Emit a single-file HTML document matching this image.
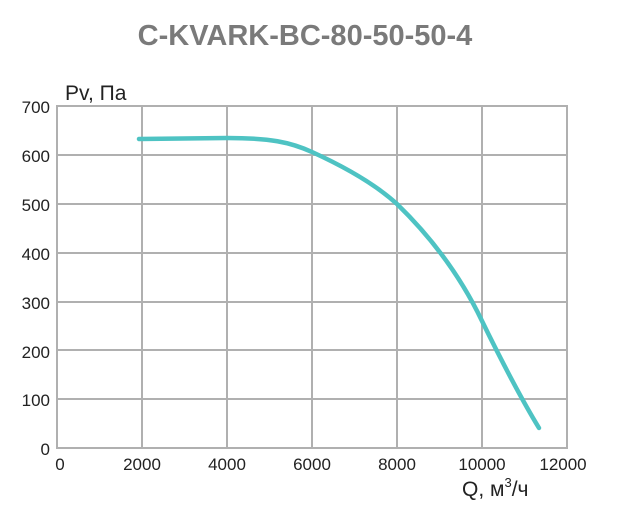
<!DOCTYPE html>
<html><head><meta charset="utf-8"><style>
body{margin:0;background:#fff;}
svg{display:block;font-family:"Liberation Sans",sans-serif;}
</style></head><body>
<svg width="618" height="529" viewBox="0 0 618 529">
<text x="305" y="45" text-anchor="middle" font-size="29" font-weight="bold" fill="#7a7a7a">C-KVARK-BC-80-50-50-4</text>
<g stroke="#b0b0b0" stroke-width="2" fill="none">
<rect x="57" y="106" width="510" height="342"/>
<line x1="142" y1="106" x2="142" y2="448"/>
<line x1="227" y1="106" x2="227" y2="448"/>
<line x1="312" y1="106" x2="312" y2="448"/>
<line x1="397" y1="106" x2="397" y2="448"/>
<line x1="482" y1="106" x2="482" y2="448"/>
<line x1="57" y1="155" x2="567" y2="155"/>
<line x1="57" y1="204" x2="567" y2="204"/>
<line x1="57" y1="253" x2="567" y2="253"/>
<line x1="57" y1="302" x2="567" y2="302"/>
<line x1="57" y1="350" x2="567" y2="350"/>
<line x1="57" y1="399" x2="567" y2="399"/>
</g>
<g font-size="17" fill="#222" text-anchor="end">
<text x="50" y="113">700</text><text x="50" y="162">600</text><text x="50" y="211">500</text>
<text x="50" y="260">400</text><text x="50" y="309">300</text><text x="50" y="358">200</text>
<text x="50" y="406">100</text><text x="50" y="455">0</text>
</g>
<g font-size="17" fill="#222" text-anchor="middle">
<text x="60" y="470">0</text><text x="142" y="470">2000</text><text x="227" y="470">4000</text>
<text x="312" y="470">6000</text><text x="397" y="470">8000</text><text x="482" y="470">10000</text>
<text x="563" y="470">12000</text>
</g>
<text x="65" y="100" font-size="21" fill="#222">Pv, Па</text>
<text x="462" y="496" font-size="21" fill="#222">Q, м<tspan font-size="13" dy="-9">3</tspan><tspan dy="9">/ч</tspan></text>
<path d="M139,139 L227,138 C270,138 290,142 312,152 C345,167 375,184 397,204 C430,236 460,275 482,321 C505,368 525,405 539,428" stroke="#4ec3c3" stroke-width="4.5" fill="none" stroke-linecap="round"/>
</svg>
</body></html>
